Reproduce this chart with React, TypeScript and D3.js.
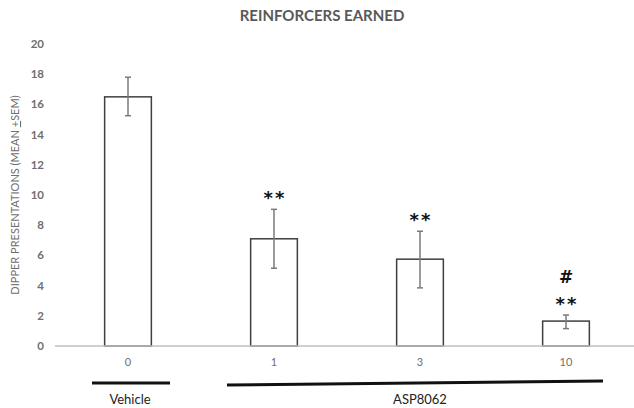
import React from 'react';
import * as d3 from 'd3';

const doses = ['0', '1', '3', '10'];
const means = [16.5, 7.1, 5.75, 1.65];
const errLow = [15.25, 5.15, 3.85, 1.15];
const errHigh = [17.8, 9.05, 7.6, 2.05];
const marks = [[], ['**'], ['**'], ['**', '#']];
const yTicks = [0, 2, 4, 6, 8, 10, 12, 14, 16, 18, 20];

const W = 634, H = 408;
const FONT = 'Lato, "Open Sans", sans-serif';

function App() {
    const x = d3.scaleBand().domain(doses).range([55, 639]).paddingInner(0.68).paddingOuter(0.34);
    const y = d3.scaleLinear().domain([0, 20]).range([346, 44]);
    const bw = x.bandwidth();
    const cx = (d) => x(d) + bw / 2;

    return (
        <svg width={W} height={H} style={{ position: 'absolute', left: 0, top: 0 }} fontFamily={FONT}>
            <rect width={W} height={H} fill="#fff" />
            <text x={322} y={21} textAnchor="middle" fontSize={15} fontWeight={700} fill="#595959">REINFORCERS EARNED</text>

            {yTicks.map(t => (
                <text key={t} x={44} y={y(t) + 4} textAnchor="end" fontSize={11.5} fontWeight={700} fill="#6f6f6f">{t}</text>
            ))}
            <text transform="translate(19,195) rotate(-90)" textAnchor="middle" fontSize={11} fill="#6f6f6f">
                DIPPER PRESENTATIONS (MEAN <tspan textDecoration="underline">+</tspan>SEM)
            </text>

            {doses.map((d, i) => (
                <g key={d}>
                    <rect x={x(d)} y={y(means[i])} width={bw} height={y(0) - y(means[i])}
                        fill="#fff" stroke="#3f3f3f" strokeWidth={1.5} />
                    <line x1={cx(d)} x2={cx(d)} y1={y(errLow[i])} y2={y(errHigh[i])} stroke="#7a7a7a" strokeWidth={1.5} />
                    <line x1={cx(d) - 3} x2={cx(d) + 3} y1={y(errLow[i])} y2={y(errLow[i])} stroke="#7a7a7a" strokeWidth={1.5} />
                    <line x1={cx(d) - 3} x2={cx(d) + 3} y1={y(errHigh[i])} y2={y(errHigh[i])} stroke="#7a7a7a" strokeWidth={1.5} />
                    {marks[i].map((m, k) => (
                        <text key={k} x={cx(d) + (m === '**' ? 1 : 0)} y={y(errHigh[i]) - 5 - k * 27}
                            textAnchor="middle" fontSize={m === '**' ? 18 : 17} fontWeight={700}
                            letterSpacing={m === '**' ? 2 : 0}
                            fontFamily='"DejaVu Sans", sans-serif' fill="#111">{m}</text>
                    ))}
                    <text x={cx(d)} y={366} textAnchor="middle" fontSize={11} fill="#6f6f6f">{d}</text>
                </g>
            ))}
            <line x1={55} x2={W} y1={y(0)} y2={y(0)} stroke="#bfbfbf" strokeWidth={1.5} />

            <line x1={92} x2={170} y1={383} y2={383} stroke="#111" strokeWidth={3} />
            <line x1={227} x2={603} y1={385} y2={381} stroke="#111" strokeWidth={3} />
            <text x={130} y={404} textAnchor="middle" fontSize={13} fill="#222">Vehicle</text>
            <text x={420} y={404} textAnchor="middle" fontSize={13} fill="#222">ASP8062</text>
        </svg>
    );
}

export default App;
